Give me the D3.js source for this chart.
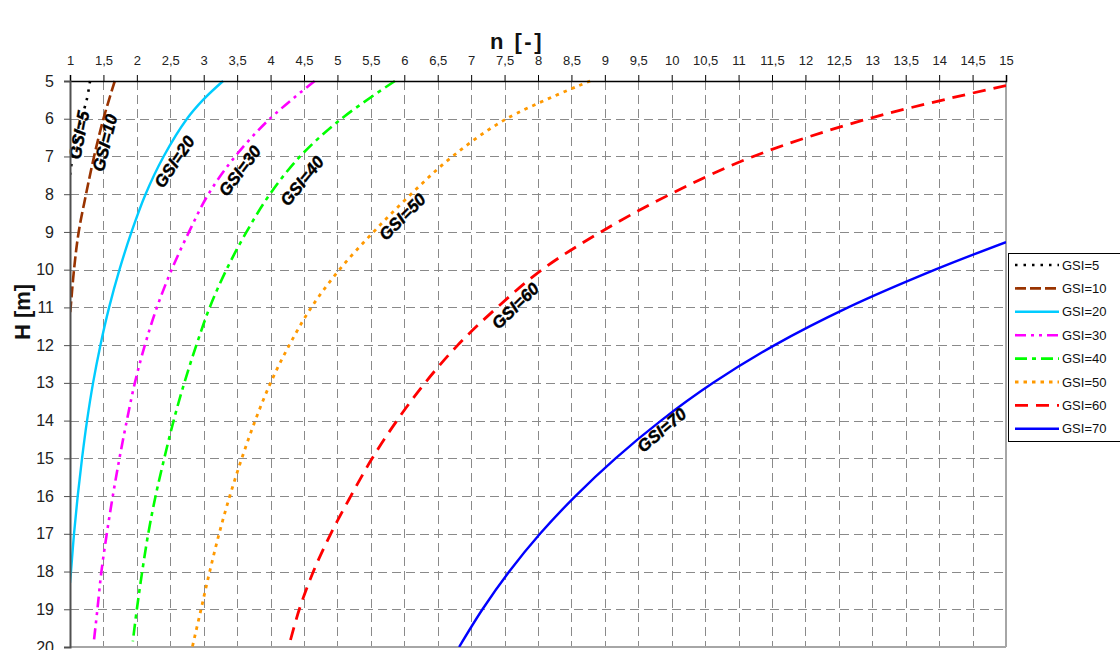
<!DOCTYPE html>
<html>
<head>
<meta charset="utf-8">
<script src="https://cdn.jsdelivr.net/npm/d3@7"></script>
<style>
  html, body { margin: 0; padding: 0; background: #fff; }
  svg { display: block; font-family: "Liberation Sans", Arial, sans-serif; }
</style>
</head>
<body>
<svg id="chart" width="1120" height="650"></svg>
<script>
// Axis ticks
const nTicks = d3.range(1, 15.001, 0.5);
const hTicks = d3.range(5, 21, 1);

// Series: depth H [m] and corresponding n [-] for each GSI
const seriesNames = ["GSI=5", "GSI=10", "GSI=20", "GSI=30", "GSI=40", "GSI=50", "GSI=60", "GSI=70"];

const h_gsi5  = [5, 5.5, 6, 6.5, 7, 7.5];
const n_gsi5  = [1.30, 1.25, 1.17, 1.10, 1.04, 1.00];

const h_gsi10 = [5, 6, 7, 8, 9, 10, 11, 11.2];
const n_gsi10 = [1.67, 1.50, 1.36, 1.24, 1.13, 1.06, 1.01, 1.00];

const h_gsi20 = [5, 5.5, 6, 7, 8, 9, 10, 11, 12, 13, 14, 15, 16, 17, 18, 18.3];
const n_gsi20 = [3.29, 2.99, 2.75, 2.40, 2.13, 1.92, 1.74, 1.585, 1.455, 1.345, 1.255, 1.18, 1.115, 1.06, 1.015, 1.00];

const h_gsi30 = [5, 6, 7, 8, 9, 10, 11, 12, 13, 14, 15, 16, 17, 18, 19, 19.8];
const n_gsi30 = [4.66, 3.99, 3.47, 3.07, 2.78, 2.52, 2.30, 2.12, 1.97, 1.85, 1.74, 1.64, 1.55, 1.47, 1.41, 1.36];

const h_gsi40 = [5, 6, 7, 8, 9, 10, 11, 12, 13, 14, 15, 16, 17, 18, 19, 19.85];
const n_gsi40 = [5.86, 5.06, 4.44, 3.99, 3.64, 3.34, 3.09, 2.89, 2.71, 2.55, 2.41, 2.28, 2.17, 2.08, 2.00, 1.94];

const h_gsi50 = [5, 6, 7, 8, 9, 10, 11, 12, 13, 14, 15, 16, 17, 18, 19, 20];
const n_gsi50 = [8.78, 7.53, 6.72, 6.10, 5.54, 5.03, 4.61, 4.28, 4.00, 3.77, 3.57, 3.39, 3.23, 3.09, 2.96, 2.83];

const h_gsi60 = [5.12, 6, 7, 8, 9, 10, 11, 12, 13, 14, 15, 16, 17, 18, 19, 20];
const n_gsi60 = [15, 12.94, 11.22, 9.98, 8.94, 8.06, 7.39, 6.80, 6.31, 5.89, 5.52, 5.20, 4.90, 4.64, 4.43, 4.27];

const h_gsi70 = [9.27, 10, 11, 12, 13, 14, 15, 16, 17, 18, 19, 20];
const n_gsi70 = [15, 13.94, 12.64, 11.54, 10.62, 9.84, 9.16, 8.56, 8.03, 7.57, 7.17, 6.82];

const seriesH = [h_gsi5, h_gsi10, h_gsi20, h_gsi30, h_gsi40, h_gsi50, h_gsi60, h_gsi70];
const seriesN = [n_gsi5, n_gsi10, n_gsi20, n_gsi30, n_gsi40, n_gsi50, n_gsi60, n_gsi70];

// Line styles per series
const styles = [
  { color: "#000000", dash: "2.5,6",        width: 2.6 },
  { color: "#993300", dash: "11,4",         width: 2.6 },
  { color: "#00ccff", dash: null,           width: 2.4 },
  { color: "#ff00ff", dash: "11,5,3,5,3,5", width: 2.6 },
  { color: "#00ff00", dash: "12,5,4,5",     width: 2.6 },
  { color: "#ff9900", dash: "3.5,5",        width: 2.8 },
  { color: "#ff0000", dash: "13,8",         width: 2.8 },
  { color: "#0000ff", dash: null,           width: 2.4 }
];

// In-plot curve labels: anchor point (n, H) and rotation
const labelPlacement = [
  { n: 1.135, h: 6.43, angle: -79 },
  { n: 1.52,  h: 6.64, angle: -76 },
  { n: 2.56,  h: 7.14, angle: -56 },
  { n: 3.54,  h: 7.38, angle: -53 },
  { n: 4.47,  h: 7.65, angle: -51 },
  { n: 5.97,  h: 8.60, angle: -45 },
  { n: 7.66,  h: 10.96, angle: -44 },
  { n: 9.85,  h: 14.25, angle: -40 }
];

const svg = d3.select("#chart");
const plot = { left: 70, right: 1006, top: 81, bottom: 647 };

const x = d3.scaleLinear().domain([1, 15]).range([plot.left, plot.right]);
const y = d3.scaleLinear().domain([5, 20]).range([plot.top, plot.bottom]);

const fmt = v => String(+v.toFixed(1)).replace(".", ",");

// Grid
const grid = svg.append("g").attr("stroke", "#8a8a8a").attr("stroke-width", 1)
  .attr("stroke-dasharray", "9,5").attr("fill", "none");
grid.selectAll("line.v").data(nTicks.filter(v => v > 1 && v < 15)).join("line")
  .attr("x1", d => Math.round(x(d)) + 0.5).attr("x2", d => Math.round(x(d)) + 0.5)
  .attr("y1", plot.top).attr("y2", plot.bottom);
grid.selectAll("line.h").data(hTicks.filter(v => v > 5 && v < 20)).join("line")
  .attr("y1", d => Math.round(y(d)) + 0.5).attr("y2", d => Math.round(y(d)) + 0.5)
  .attr("x1", plot.left).attr("x2", plot.right);

// Plot frame (right and bottom)
svg.append("line").attr("x1", plot.right).attr("x2", plot.right)
  .attr("y1", plot.top).attr("y2", plot.bottom)
  .attr("stroke", "#a6a6a6").attr("stroke-width", 2);
svg.append("line").attr("x1", plot.left).attr("x2", plot.right)
  .attr("y1", plot.bottom).attr("y2", plot.bottom)
  .attr("stroke", "#a6a6a6").attr("stroke-width", 2);

// Curves
svg.append("clipPath").attr("id", "plotClip").append("rect")
  .attr("x", plot.left).attr("y", plot.top - 2)
  .attr("width", plot.right - plot.left).attr("height", plot.bottom - plot.top + 2);

const line = d3.line().x(d => x(d[0])).y(d => y(d[1])).curve(d3.curveCatmullRom.alpha(0.5));
const curves = svg.append("g").attr("clip-path", "url(#plotClip)");
seriesNames.forEach((name, i) => {
  const pts = seriesN[i].map((n, k) => [n, seriesH[i][k]]);
  curves.append("path")
    .attr("d", line(pts))
    .attr("fill", "none")
    .attr("stroke", styles[i].color)
    .attr("stroke-width", styles[i].width)
    .attr("stroke-dasharray", styles[i].dash)
    .attr("stroke-linejoin", "round");
});

// Curve labels
svg.append("g").selectAll("text").data(labelPlacement).join("text")
  .attr("transform", d => `translate(${x(d.n)},${y(d.h)}) rotate(${d.angle})`)
  .attr("text-anchor", "middle").attr("dy", "0.35em")
  .attr("font-size", 17).attr("font-weight", "bold").attr("font-style", "italic")
  .attr("fill", "#000").attr("stroke", "#000").attr("stroke-width", 0.4)
  .text((d, i) => seriesNames[i]);

// Top axis (n)
const xAxis = d3.axisTop(x).tickValues(nTicks).tickFormat(fmt).tickSize(6).tickPadding(10);
const gx = svg.append("g").attr("transform", `translate(0,${plot.top})`).call(xAxis);
gx.select(".domain").attr("stroke", "#000").attr("stroke-width", 1.5);
gx.selectAll(".tick line").attr("stroke", "#000");
gx.selectAll(".tick text").attr("font-size", 13).attr("fill", "#222")
  .attr("font-family", "'Liberation Sans', Arial, sans-serif");

// Left axis (H)
const yAxis = d3.axisLeft(y).tickValues(hTicks).tickSize(6).tickPadding(10);
const gy = svg.append("g").attr("transform", `translate(${plot.left},0)`).call(yAxis);
gy.select(".domain").attr("stroke", "#505050").attr("stroke-width", 2);
gy.selectAll(".tick line").attr("stroke", "#505050");
gy.selectAll(".tick text").attr("font-size", 16).attr("fill", "#222")
  .attr("font-family", "'Liberation Sans', Arial, sans-serif");

// Axis titles
svg.append("text").attr("x", 517).attr("y", 49).attr("text-anchor", "middle")
  .attr("font-size", 22).attr("font-weight", "bold").attr("letter-spacing", 2.5)
  .attr("fill", "#111").text("n [-]");
svg.append("text").attr("transform", "translate(30,312) rotate(-90)").attr("text-anchor", "middle")
  .attr("font-size", 22).attr("font-weight", "bold").attr("fill", "#111").text("H [m]");

// Legend
const lg = svg.append("g").attr("transform", "translate(1008,253)");
lg.append("rect").attr("x", 0.5).attr("y", 0.5).attr("width", 130).attr("height", 188)
  .attr("fill", "#fff").attr("stroke", "#000").attr("stroke-width", 1);
const items = lg.selectAll("g.item").data(seriesNames).join("g")
  .attr("transform", (d, i) => `translate(0,${12 + i * 23.4})`);
items.append("line").attr("x1", 7).attr("x2", 51).attr("y1", 0).attr("y2", 0)
  .attr("stroke", (d, i) => styles[i].color)
  .attr("stroke-width", (d, i) => styles[i].width)
  .attr("stroke-dasharray", (d, i) => styles[i].dash);
items.append("text").attr("x", 54).attr("dy", "0.35em").attr("font-size", 13)
  .attr("fill", "#111").text(d => d);
</script>
</body>
</html>
